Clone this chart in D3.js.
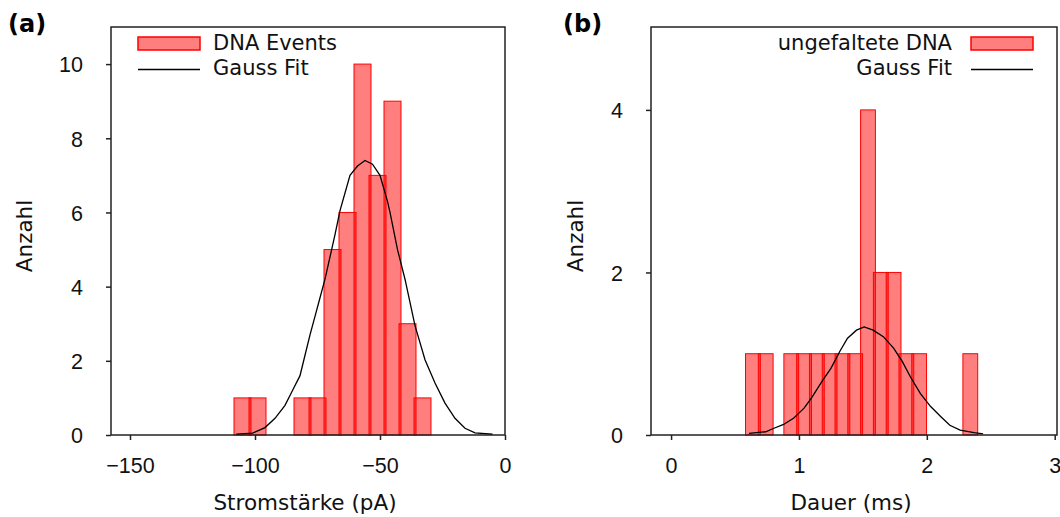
<!DOCTYPE html>
<html>
<head>
<meta charset="utf-8">
<script src="https://cdn.jsdelivr.net/npm/d3@7"></script>
<style>
  body { margin: 0; background: #fff; }
  svg { font-family: "DejaVu Sans", sans-serif; }
  .tick text { font-size: 21.5px; fill: #111; }
  .axis-label { font-size: 21.5px; fill: #111; }
  .legend text { font-size: 21px; fill: #111; }
</style>
</head>
<body>
<div id="chart-area"></div>
<script>
// Panel (a): current histogram, bins of 6 pA (left edge)
let binStartsA = [-108, -102, -96, -90, -84, -78, -72, -66, -60, -54, -48, -42, -36];
let countsA = [1, 1, 0, 0, 1, 1, 5, 6, 10, 7, 9, 3, 1];
let binWidthA = 6;
let fitXA = [-107.5, -101, -96, -92, -88, -85, -82, -80, -78, -76, -74, -72, -70, -68, -66, -62, -59, -56, -53, -50, -47, -46, -43, -40, -36, -32, -28, -24, -20, -16, -12, -5];
let fitYA = [0.02, 0.05, 0.2, 0.45, 0.8, 1.2, 1.6, 2.15, 2.7, 3.2, 3.7, 4.2, 4.8, 5.4, 6.05, 7.0, 7.25, 7.4, 7.3, 7.0, 6.3, 6.0, 5.0, 4.2, 2.95, 2.03, 1.4, 0.86, 0.45, 0.18, 0.06, 0.02];
let xTicksA = [-150, -100, -50, 0];
let yTicksA = [0, 2, 4, 6, 8, 10];

// Panel (b): duration histogram, bins of 0.1 ms (left edge)
let binStartsB = [0.59, 0.69, 0.79, 0.89, 0.99, 1.09, 1.19, 1.29, 1.39, 1.49, 1.59, 1.69, 1.79, 1.89, 1.99, 2.09, 2.19, 2.29];
let countsB = [1, 1, 0, 1, 1, 1, 1, 1, 1, 4, 2, 2, 1, 1, 0, 0, 0, 1];
let binWidthB = 0.1;
let fitXB = [0.61, 0.74, 0.80, 0.88, 0.96, 1.04, 1.10, 1.18, 1.25, 1.32, 1.38, 1.45, 1.51, 1.58, 1.66, 1.74, 1.81, 1.87, 1.95, 2.03, 2.11, 2.18, 2.26, 2.37, 2.44];
let fitYB = [0.02, 0.04, 0.08, 0.13, 0.21, 0.33, 0.46, 0.66, 0.82, 1.03, 1.19, 1.29, 1.33, 1.29, 1.21, 1.07, 0.90, 0.72, 0.51, 0.35, 0.225, 0.12, 0.06, 0.03, 0.015];
let xTicksB = [0, 1, 2, 3];
let yTicksB = [0, 2, 4];

let svg = d3.select("#chart-area")
	.append("svg")
	.attr("width", 1060)
	.attr("height", 517);

function drawPanel(p) {
	let x = d3.scaleLinear().domain(p.xDomain).range([p.left, p.right]);
	let y = d3.scaleLinear().domain(p.yDomain).range([p.bottom, p.top]);
	let g = svg.append("g");

	// Histogram bars (slightly overlapping so shared edges look heavier)
	let bars = p.binStarts.map((b, i) => ({x0: b, x1: b + p.binWidth, n: p.counts[i]}))
		.filter(d => d.n > 0);
	g.selectAll("rect.bar")
		.data(bars)
		.enter()
		.append("rect")
		.attr("class", "bar")
		.attr("x", d => x(d.x0) - 1)
		.attr("y", d => y(d.n))
		.attr("width", d => x(d.x1) - x(d.x0) + 2)
		.attr("height", d => y(0) - y(d.n))
		.attr("fill", "rgba(255,0,0,0.5)")
		.attr("stroke", "#ff0000")
		.attr("stroke-width", 1);

	// Gauss fit
	let line = d3.line().x(d => x(d[0])).y(d => y(d[1]));
	g.append("path")
		.datum(d3.zip(p.fitX, p.fitY))
		.attr("d", line)
		.attr("fill", "none")
		.attr("stroke", "#000")
		.attr("stroke-width", 1.3);

	// Frame
	g.append("rect")
		.attr("x", p.left)
		.attr("y", p.top)
		.attr("width", p.right - p.left)
		.attr("height", p.bottom - p.top)
		.attr("fill", "none")
		.attr("stroke", "#222")
		.attr("stroke-width", 1.5);

	// Axes
	let xAxis = d3.axisBottom(x).tickValues(p.xTicks).tickFormat(d3.format("d"))
		.tickSize(5).tickPadding(18);
	let xg = g.append("g")
		.attr("transform", "translate(0," + p.bottom + ")")
		.call(xAxis);
	xg.select(".domain").remove();
	xg.selectAll(".tick line").attr("stroke", "#222").attr("stroke-width", 1.5);

	let yAxis = d3.axisLeft(y).tickValues(p.yTicks).tickFormat(d3.format("d"))
		.tickSize(5).tickPadding(23);
	let yg = g.append("g")
		.attr("transform", "translate(" + p.left + ",0)")
		.call(yAxis);
	yg.select(".domain").remove();
	yg.selectAll(".tick line").attr("stroke", "#222").attr("stroke-width", 1.5);
	yg.selectAll(".tick text").attr("dy", "0.36em");

	// Axis titles
	g.append("text")
		.attr("class", "axis-label")
		.attr("x", (p.left + p.right) / 2 - 3)
		.attr("y", 510)
		.style("text-anchor", "middle")
		.text(p.xLabel);

	g.append("text")
		.attr("class", "axis-label")
		.attr("transform", "translate(" + p.yLabelX + ",236) rotate(-90)")
		.style("text-anchor", "middle")
		.text("Anzahl");

	// Panel letter
	g.append("text")
		.attr("x", p.letterX)
		.attr("y", 32)
		.style("font-size", "24px")
		.style("font-weight", "bold")
		.text(p.letter);

	// Legend
	let lg = g.append("g").attr("class", "legend");
	let sw = p.legend.swatchX;
	lg.append("rect")
		.attr("x", sw)
		.attr("y", 37)
		.attr("width", 62)
		.attr("height", 13)
		.attr("fill", "rgba(255,0,0,0.5)")
		.attr("stroke", "#ff0000")
		.attr("stroke-width", 1.5);
	lg.append("line")
		.attr("x1", sw)
		.attr("x2", sw + 62)
		.attr("y1", 69.5)
		.attr("y2", 69.5)
		.attr("stroke", "#000")
		.attr("stroke-width", 1.5);
	lg.append("text")
		.attr("x", p.legend.textX)
		.attr("y", 50)
		.style("text-anchor", p.legend.anchor)
		.text(p.legend.names[0]);
	lg.append("text")
		.attr("x", p.legend.textX)
		.attr("y", 75)
		.style("text-anchor", p.legend.anchor)
		.text(p.legend.names[1]);
}

drawPanel({
	left: 111, right: 505, top: 27, bottom: 435,
	xDomain: [-157.6, 0], yDomain: [0, 11],
	binStarts: binStartsA, counts: countsA, binWidth: binWidthA,
	fitX: fitXA, fitY: fitYA,
	xTicks: xTicksA, yTicks: yTicksA,
	xLabel: "Stromstärke (pA)", yLabelX: 32,
	letter: "(a)", letterX: 8,
	legend: {swatchX: 138, textX: 213, anchor: "start", names: ["DNA Events", "Gauss Fit"]}
});

drawPanel({
	left: 651, right: 1057, top: 27, bottom: 435,
	xDomain: [-0.157, 3.018], yDomain: [0, 5.02],
	binStarts: binStartsB, counts: countsB, binWidth: binWidthB,
	fitX: fitXB, fitY: fitYB,
	xTicks: xTicksB, yTicks: yTicksB,
	xLabel: "Dauer (ms)", yLabelX: 583,
	letter: "(b)", letterX: 563,
	legend: {swatchX: 971, textX: 952, anchor: "end", names: ["ungefaltete DNA", "Gauss Fit"]}
});
</script>
</body>
</html>
